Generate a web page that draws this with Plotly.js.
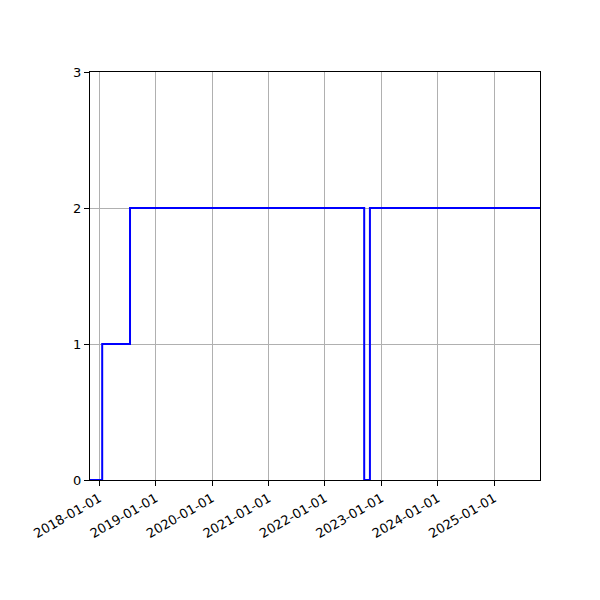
<!DOCTYPE html>
<html>
<head>
<meta charset="utf-8">
<script src="https://cdn.plot.ly/plotly-3.0.1.min.js"></script>
<style>
  html, body { margin: 0; padding: 0; background: #fff; }
  #chart { width: 600px; height: 600px; }
</style>
</head>
<body>
<div id="chart"></div>
<script>
// step series
var dates = ['2017-11-02', '2018-01-20', '2018-07-19', '2022-09-12', '2022-10-19', '2025-10-24'];
var counts = [0, 1, 2, 0, 2, 2];

var xRange = ['2017-11-02', '2025-10-24'];
var tickDates = ['2018-01-01', '2019-01-01', '2020-01-01', '2021-01-01',
                 '2022-01-01', '2023-01-01', '2024-01-01', '2025-01-01'];
var yTicks = [0, 1, 2, 3];

var trace = {
  x: dates,
  y: counts,
  type: 'scatter',
  mode: 'lines',
  line: { shape: 'hv', color: 'blue', width: 2 },
  hoverinfo: 'x+y'
};

var layout = {
  width: 600,
  height: 600,
  margin: { l: 90, r: 60, t: 72, b: 120 },
  paper_bgcolor: '#fff',
  plot_bgcolor: '#fff',
  showlegend: false,
  font: { family: 'DejaVu Sans', size: 13, color: '#000' },
  xaxis: {
    type: 'date',
    range: xRange,
    tickvals: tickDates,
    ticktext: tickDates,
    tickangle: -30,
    ticks: 'outside',
    ticklen: 5,
    tickcolor: '#000',
    showgrid: true,
    gridcolor: '#b0b0b0',
    gridwidth: 1,
    showline: true,
    linecolor: '#000',
    linewidth: 1,
    mirror: true,
    zeroline: false
  },
  yaxis: {
    range: [0, 3],
    tickvals: yTicks,
    ticks: 'outside',
    ticklen: 5,
    tickcolor: '#000',
    showgrid: true,
    gridcolor: '#b0b0b0',
    gridwidth: 1,
    showline: true,
    linecolor: '#000',
    linewidth: 1,
    mirror: true,
    zeroline: false
  }
};

Plotly.newPlot('chart', [trace], layout, { displayModeBar: false, staticPlot: true });
</script>
</body>
</html>
